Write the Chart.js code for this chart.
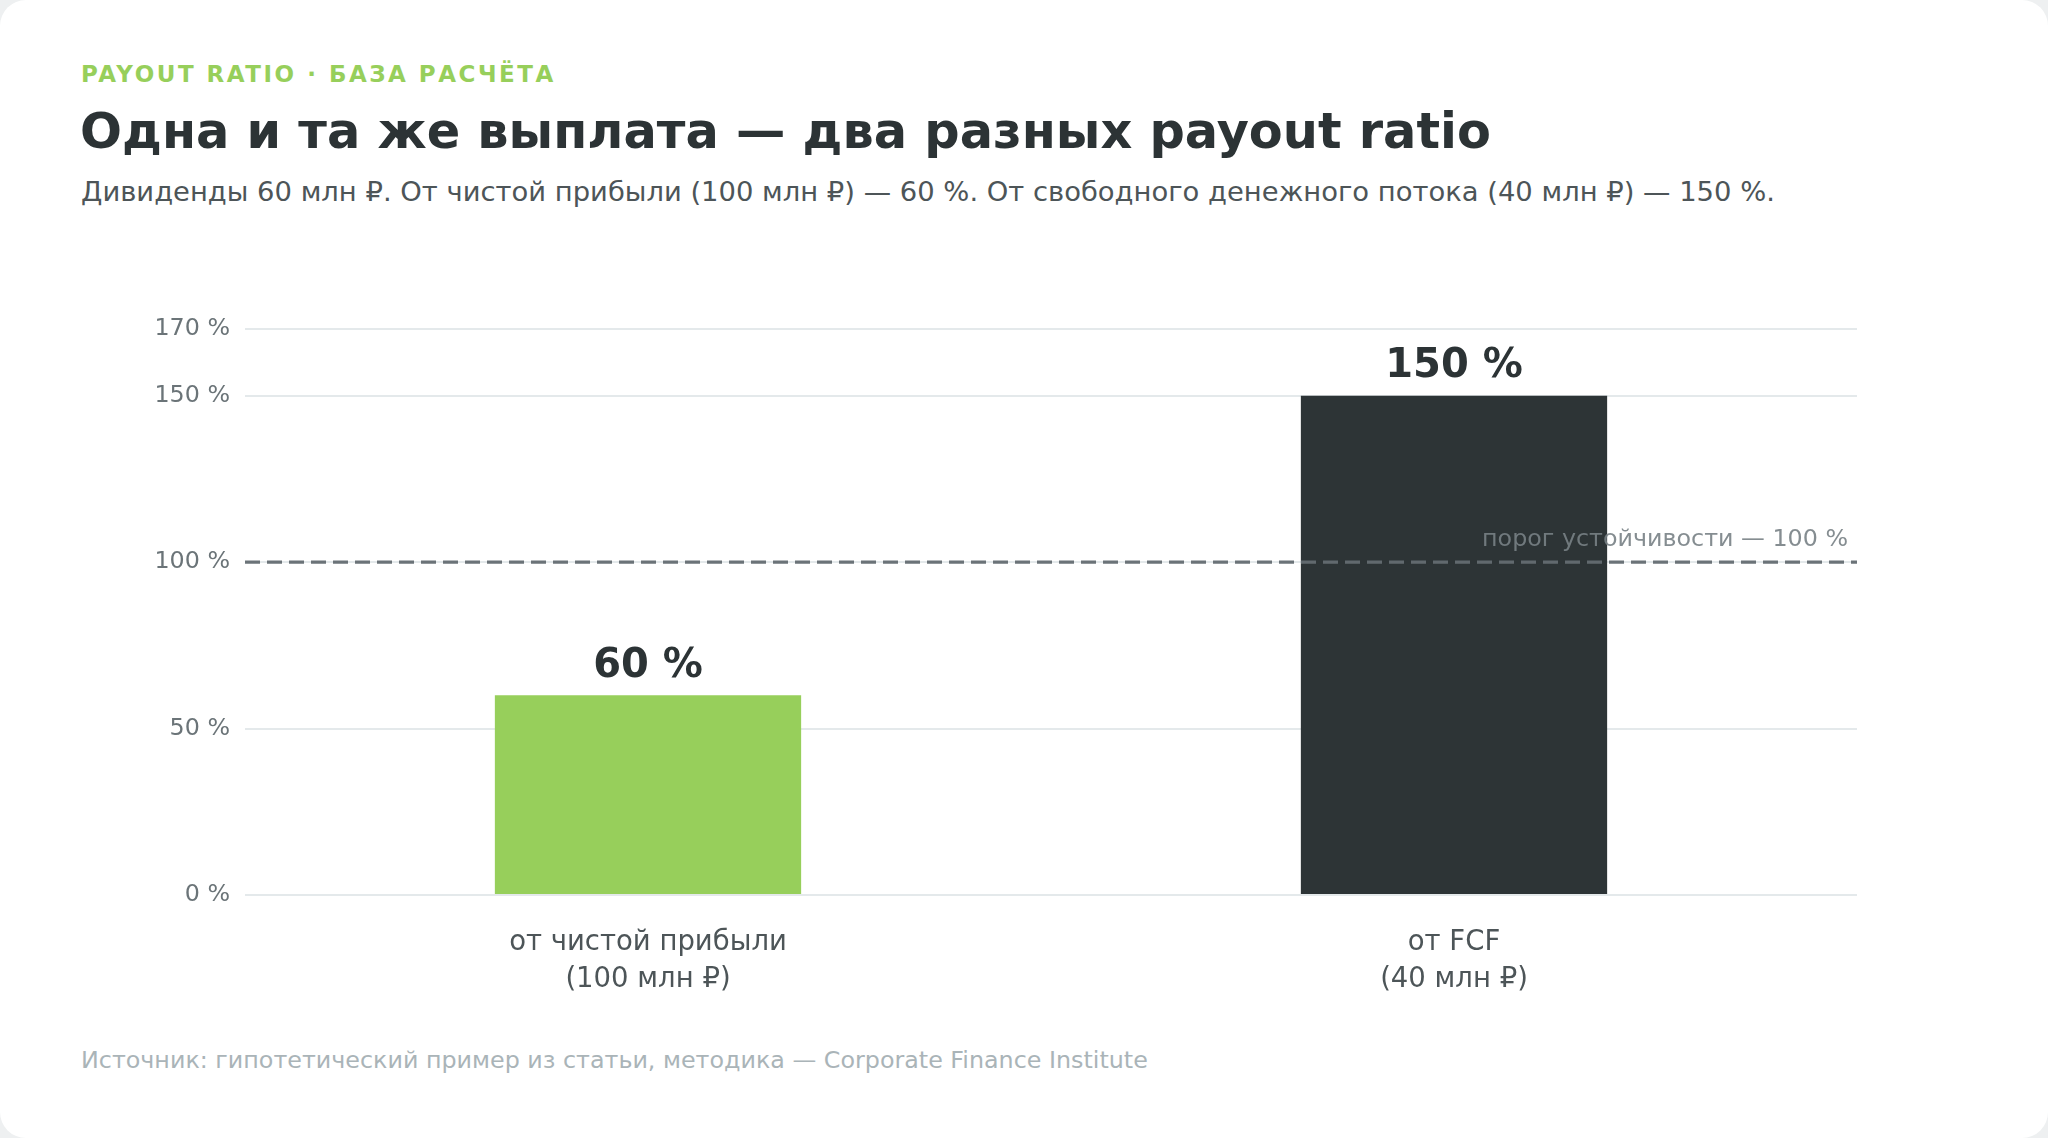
<!DOCTYPE html>
<html lang="ru">
<head>
<meta charset="utf-8">
<title>Payout ratio</title>
<script src="https://cdn.jsdelivr.net/npm/chart.js"></script>
<style>
  html, body { margin: 0; padding: 0; background: #eef0f1; }
  body { width: 2048px; height: 1138px; overflow: hidden; font-family: "DejaVu Sans", sans-serif; }
  .card { position: absolute; left: 0; top: 0; width: 2048px; height: 1138px; background: #fff; border-radius: 26px; }
  .eyebrow { position: absolute; left: 81px; top: 60px; font-size: 23px; font-weight: bold; letter-spacing: 2.5px; color: #97cf5b; line-height: 28px; }
  .title { position: absolute; left: 80px; top: 101px; font-size: 49.4px; font-weight: bold; color: #2c3335; line-height: 60px; }
  .subtitle { position: absolute; left: 81px; top: 175px; font-size: 27.4px; color: #4d5558; line-height: 34px; }
  .source { position: absolute; left: 81px; top: 1045px; font-size: 23.8px; color: #aab4b8; line-height: 30px; }
  .chart-box { position: absolute; left: 100px; top: 300px; width: 1780px; height: 720px; }
</style>
</head>
<body>
<div class="card">
  <div class="eyebrow">PAYOUT RATIO · БАЗА РАСЧЁТА</div>
  <div class="title">Одна и та же выплата — два разных payout ratio</div>
  <div class="subtitle">Дивиденды 60 млн ₽. От чистой прибыли (100 млн ₽) — 60 %. От свободного денежного потока (40 млн ₽) — 150 %.</div>
  <div class="chart-box"><canvas id="payoutChart"></canvas></div>
  <div class="source">Источник: гипотетический пример из статьи, методика — Corporate Finance Institute</div>
</div>

<script>
  const categories = [['от чистой прибыли', '(100 млн ₽)'], ['от FCF', '(40 млн ₽)']];
  const payoutValues = [60, 150];
  const barColors = ['#97cf5b', '#2d3436'];
  const yTicks = [0, 50, 100, 150, 170];
  const threshold = 100;
  const thresholdLabel = 'порог устойчивости — 100 %';

  const fontFamily = '"DejaVu Sans", sans-serif';

  // подписи значений над столбцами
  const valueLabels = {
    id: 'valueLabels',
    afterDatasetsDraw(chart) {
      const ctx = chart.ctx;
      const meta = chart.getDatasetMeta(0);
      ctx.save();
      ctx.font = 'bold 40px ' + fontFamily;
      ctx.fillStyle = '#2c3335';
      ctx.textAlign = 'center';
      ctx.textBaseline = 'middle';
      meta.data.forEach((bar, i) => {
        ctx.fillText(payoutValues[i] + ' %', bar.x, bar.y - 29);
      });
      ctx.restore();
    }
  };

  // пунктир порога 100 %
  const thresholdLine = {
    id: 'thresholdLine',
    afterDatasetsDraw(chart) {
      const ctx = chart.ctx;
      const area = chart.chartArea;
      const y = chart.scales.y.getPixelForValue(threshold);
      ctx.save();
      ctx.strokeStyle = 'rgba(100, 109, 114, 0.95)';
      ctx.lineWidth = 3.2;
      ctx.setLineDash([15, 7]);
      ctx.beginPath();
      ctx.moveTo(area.left, y);
      ctx.lineTo(area.right, y);
      ctx.stroke();
      ctx.setLineDash([]);
      ctx.font = '23.8px ' + fontFamily;
      ctx.fillStyle = 'rgba(120, 129, 133, 0.9)';
      ctx.textAlign = 'right';
      ctx.textBaseline = 'middle';
      ctx.fillText(thresholdLabel, area.right - 9, y - 22);
      ctx.restore();
    }
  };

  new Chart(document.getElementById('payoutChart'), {
    type: 'bar',
    data: {
      labels: categories,
      datasets: [{
        data: payoutValues,
        backgroundColor: barColors,
        borderWidth: 0,
        categoryPercentage: 1,
        barPercentage: 0.38
      }]
    },
    options: {
      responsive: true,
      maintainAspectRatio: false,
      animation: false,
      layout: { padding: { top: 26, right: 23, bottom: 0, left: 0 } },
      plugins: {
        legend: { display: false },
        tooltip: { enabled: false }
      },
      scales: {
        x: {
          grid: { display: false },
          border: { display: false },
          afterFit(scale) { scale.height = 125; },
          ticks: {
            padding: 22,
            color: '#4d5558',
            font: { family: fontFamily, size: 27.5, lineHeight: 1.33 }
          }
        },
        y: {
          min: 0,
          max: 170,
          afterBuildTicks(scale) { scale.ticks = yTicks.map(v => ({ value: v })); },
          afterFit(scale) { scale.width = 145; },
          grid: { color: '#e4e9eb', lineWidth: 2, drawTicks: false },
          border: { display: false },
          ticks: {
            padding: 15,
            color: '#6b7478',
            font: { family: fontFamily, size: 23.8 },
            callback: v => v + ' %'
          }
        }
      }
    },
    plugins: [thresholdLine, valueLabels]
  });
</script>
</body>
</html>
